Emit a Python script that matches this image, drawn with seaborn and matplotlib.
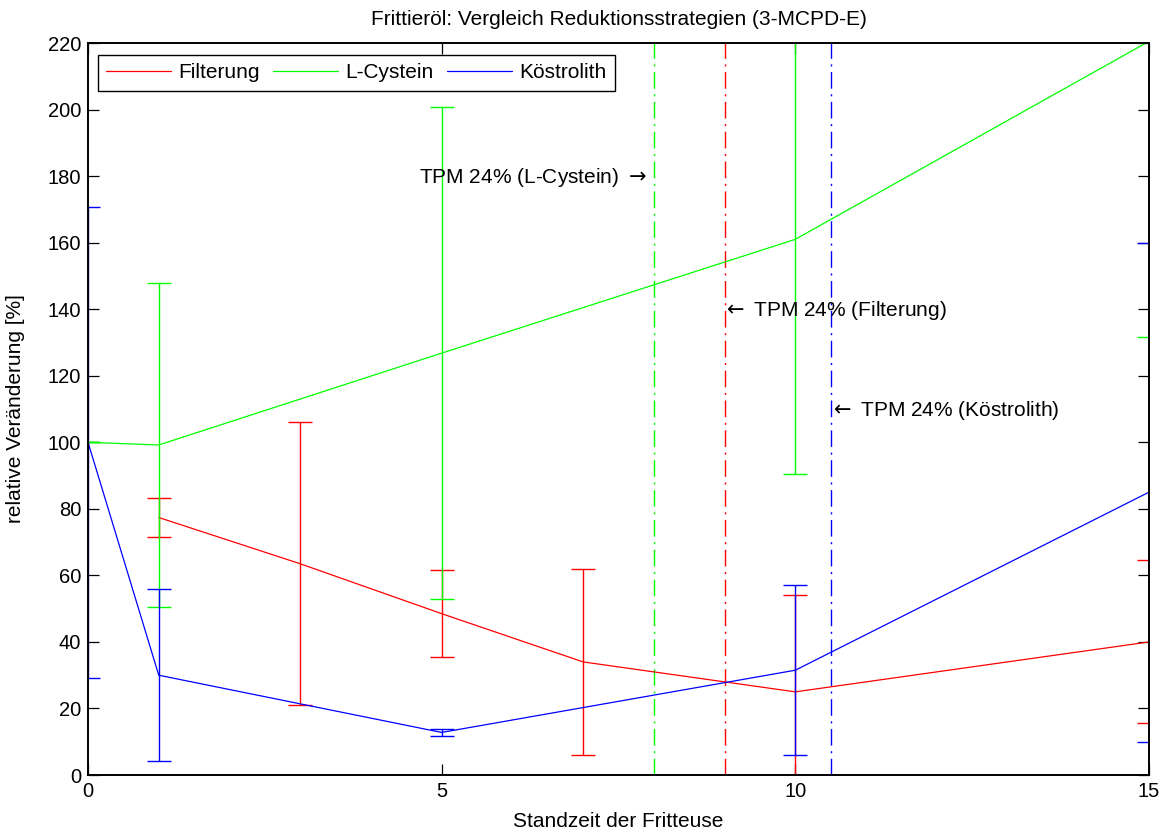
import numpy as np
import pandas as pd
import matplotlib
matplotlib.use("Agg")
import matplotlib.pyplot as plt
import seaborn as sns

# --- data --------------------------------------------------------------
filt_x = [1, 3, 5, 7, 10, 15]
filt_y = [77.4, 63.5, 48.5, 34, 25, 40]
filt_err = [5.8, 42.5, 13, 28, 29, 24.5]

cyst_x = [0, 1, 5, 10, 15]
cyst_y = [100, 99.2, 126.8, 161, 220.5]
cyst_err = [0, 48.6, 74, 70.5, 89]

koest_x = [0, 1, 5, 10, 15]
koest_y = [100, 30, 12.8, 31.5, 85]
koest_err = [70.8, 25.8, 1, 25.5, 75]

series_names = ["Filterung", "L-Cystein", "Köstrolith"]
series_colors = ["#ff0000", "#00ff00", "#0000ff"]

# TPM 24% limits per strategy
tpm_x = [9, 8, 10.5]
tpm_labels = [r"$\leftarrow$ TPM 24% (Filterung)", r"TPM 24% (L-Cystein) $\rightarrow$",
              r"$\leftarrow$ TPM 24% (Köstrolith)"]
tpm_label_y = [139.5, 179.5, 109.5]

xticks = [0, 5, 10, 15]
yticks = list(range(0, 221, 20))

sns.set_theme(style="ticks")
plt.rcParams["font.family"] = ["Liberation Sans", "DejaVu Sans"]
plt.rcParams["mathtext.fontset"] = "dejavusans"
for key in ["text.color", "axes.labelcolor", "xtick.color", "ytick.color"]:
    plt.rcParams[key] = "black"

FS = 15
LW = 1.0

fig = plt.figure(figsize=(11.69, 8.34), dpi=100)
ax = fig.add_axes([0.0753, 0.0707, 0.9075, 0.8777])

series = [(filt_x, filt_y, filt_err), (cyst_x, cyst_y, cyst_err),
          (koest_x, koest_y, koest_err)]
for i, ((x, y, e), name, col) in enumerate(zip(series, series_names, series_colors)):
    df = pd.DataFrame({"x": x, "y": y})
    sns.lineplot(data=df, x="x", y="y", color=col, linewidth=0.9, label=name,
                 ax=ax, zorder=2 + i * 0.1, estimator=None, sort=False)
    ax.errorbar(x, y, yerr=e, fmt="none", ecolor=col, elinewidth=LW,
                capsize=8.5, capthick=LW, zorder=2 + i * 0.1)

for xv, col in zip(tpm_x, series_colors):
    ax.axvline(xv, color=col, linewidth=LW, dashes=(12, 4, 1.5, 4), zorder=1.9)

for xv, lab, yv in zip(tpm_x, tpm_labels, tpm_label_y):
    if "rightarrow" in lab:
        ax.text(xv - 0.1, yv, lab, ha="right", va="center", fontsize=FS)
    else:
        ax.text(xv - 0.03, yv, lab, ha="left", va="center", fontsize=FS)

ax.set_xlim(0, 15)
ax.set_ylim(0, 220)
ax.set_xticks(xticks)
ax.set_yticks(yticks)
ax.tick_params(direction="in", top=True, right=True, length=8, width=0.9,
               labelsize=14.5, colors="black", pad=5)
for sp in ax.spines.values():
    sp.set_visible(True)
    sp.set_color("black")
    sp.set_linewidth(1.4)
    sp.set_zorder(5)

ax.set_title("Frittieröl: Vergleich Reduktionsstrategien (3-MCPD-E)",
             fontsize=FS, pad=13)
ax.set_xlabel("Standzeit der Fritteuse", fontsize=FS, labelpad=8)
ax.set_ylabel("relative Veränderung [%]", fontsize=FS, labelpad=16)

leg = ax.legend(loc="upper left", bbox_to_anchor=(0.0094, 0.9836),
                borderaxespad=0, ncol=3, fontsize=FS, frameon=True,
                fancybox=False, edgecolor="black", handlelength=3.1,
                columnspacing=0.67, handletextpad=0.34, borderpad=0.4)
leg.get_frame().set_linewidth(1.0)
leg.get_frame().set_alpha(1)
leg.set_zorder(6)

fig.savefig("out.png", dpi=100, facecolor="white")
